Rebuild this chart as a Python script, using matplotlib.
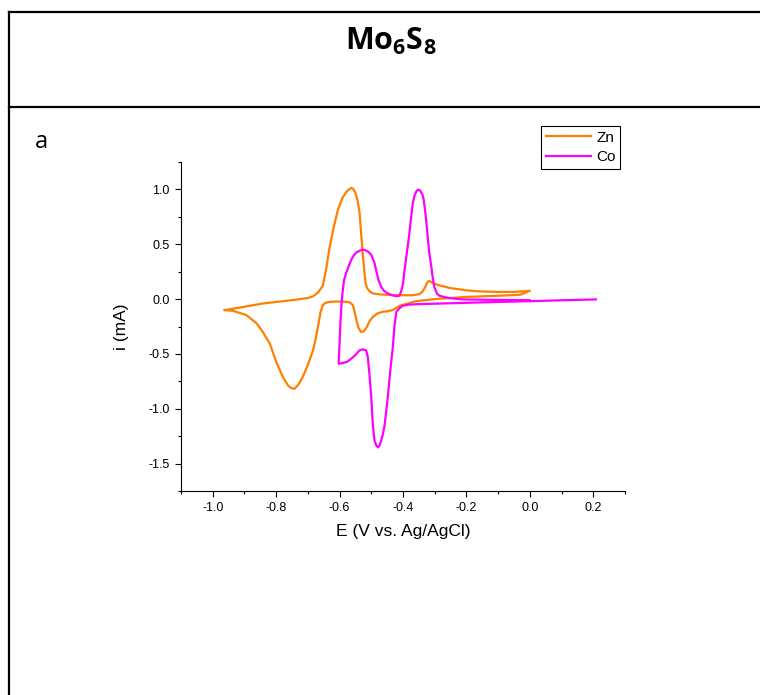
import matplotlib
matplotlib.use("Agg")
import matplotlib.pyplot as plt
from matplotlib.lines import Line2D

plt.rcParams['font.family'] = ['Liberation Sans', 'DejaVu Sans']
plt.rcParams['mathtext.fontset'] = 'custom'
plt.rcParams['mathtext.rm'] = 'Open Sans'
plt.rcParams['mathtext.bf'] = 'Open Sans:bold'

# Zn cycle: anodic sweep from -0.96 V to 0 V, then back
zn_E = [-0.962, -0.90, -0.842, -0.78, -0.736, -0.70, -0.684, -0.668, -0.653, -0.642,
        -0.631, -0.618, -0.605, -0.59, -0.575, -0.568, -0.563, -0.557, -0.552, -0.548,
        -0.545, -0.541, -0.537, -0.532, -0.527, -0.522, -0.518, -0.513, -0.505, -0.495,
        -0.47, -0.42, -0.37, -0.348, -0.338, -0.330, -0.324, -0.319, -0.315, -0.310,
        -0.300, -0.285, -0.25, -0.2, -0.159, -0.10, -0.05, 0.0,
        -0.03, -0.1, -0.2, -0.3, -0.36, -0.41, -0.432, -0.45, -0.464, -0.48,
        -0.495, -0.505, -0.515, -0.524, -0.532, -0.540, -0.547, -0.553, -0.558, -0.568,
        -0.579, -0.61, -0.631, -0.645, -0.653, -0.660, -0.668, -0.676, -0.684, -0.70,
        -0.716, -0.73, -0.742, -0.752, -0.762, -0.779, -0.80, -0.82, -0.842, -0.862,
        -0.894, -0.936, -0.962]
zn_i = [-0.10, -0.07, -0.04, -0.02, -0.005, 0.01, 0.025, 0.06, 0.12, 0.28,
        0.48, 0.66, 0.815, 0.93, 0.99, 1.005, 1.014, 1.005, 0.98, 0.95,
        0.92, 0.86, 0.787, 0.60, 0.42, 0.25, 0.146, 0.10, 0.07, 0.052,
        0.042, 0.035, 0.035, 0.045, 0.07, 0.11, 0.15, 0.165, 0.163, 0.152,
        0.138, 0.125, 0.10, 0.08, 0.07, 0.065, 0.065, 0.075,
        0.04, 0.03, 0.02, 0.0, -0.02, -0.06, -0.10, -0.112, -0.116, -0.13,
        -0.162, -0.20, -0.26, -0.295, -0.30, -0.265, -0.19, -0.11, -0.055, -0.03,
        -0.025, -0.022, -0.025, -0.035, -0.055, -0.12, -0.25, -0.37, -0.47, -0.60,
        -0.71, -0.78, -0.818, -0.812, -0.79, -0.71, -0.57, -0.406, -0.30, -0.22,
        -0.146, -0.107, -0.10]

# Co cycle: cathodic sweep from 0.21 V to -0.60 V, then back to 0 V
co_E = [0.208, 0.1, 0.0, -0.1, -0.2, -0.3, -0.35, -0.38, -0.40, -0.41,
        -0.421, -0.427, -0.432, -0.44, -0.448, -0.458, -0.464, -0.469, -0.474, -0.479,
        -0.484, -0.490, -0.495, -0.500, -0.506, -0.511, -0.516, -0.521, -0.529, -0.537,
        -0.55, -0.563, -0.575, -0.590, -0.603, -0.600, -0.597, -0.594, -0.591, -0.586,
        -0.579, -0.571, -0.563, -0.555, -0.547, -0.535, -0.528, -0.521, -0.514, -0.507,
        -0.50, -0.49, -0.485, -0.478, -0.469, -0.46, -0.448, -0.435, -0.421, -0.412,
        -0.406, -0.40, -0.395, -0.388, -0.381, -0.375, -0.369, -0.364, -0.359, -0.355,
        -0.351, -0.347, -0.343, -0.339, -0.335, -0.330, -0.325, -0.318, -0.311, -0.306,
        -0.301, -0.293, -0.285, -0.26, -0.243, -0.212, -0.15, -0.08, 0.0]
co_i = [-0.003, -0.011, -0.019, -0.026, -0.034, -0.042, -0.046, -0.05, -0.06, -0.08,
        -0.116, -0.25, -0.437, -0.65, -0.895, -1.15, -1.24, -1.29, -1.335, -1.353,
        -1.335, -1.29, -1.15, -0.895, -0.68, -0.528, -0.47, -0.461, -0.46, -0.467,
        -0.51, -0.543, -0.57, -0.583, -0.589, -0.40, -0.20, -0.05, 0.05, 0.17,
        0.24, 0.30, 0.36, 0.40, 0.425, 0.443, 0.45, 0.448, 0.44, 0.425,
        0.403, 0.33, 0.266, 0.18, 0.113, 0.075, 0.052, 0.035, 0.027, 0.03,
        0.067, 0.14, 0.266, 0.42, 0.57, 0.73, 0.876, 0.94, 0.975, 0.992,
        0.998, 0.992, 0.975, 0.955, 0.91, 0.80, 0.66, 0.44, 0.30, 0.19,
        0.11, 0.05, 0.03, 0.012, 0.006, -0.003, -0.006, -0.008, -0.01]

x_ticks = [-1.0, -0.8, -0.6, -0.4, -0.2, 0.0, 0.2]
y_ticks = [1.0, 0.5, 0.0, -0.5, -1.0, -1.5]

fig = plt.figure(figsize=(7.6, 6.95), dpi=100)

# table-like frame around the panel
fig.add_artist(Line2D([9/760, 1], [1-12/695, 1-12/695], color='black', lw=1.6, transform=fig.transFigure))
fig.add_artist(Line2D([9/760, 1], [1-107/695, 1-107/695], color='black', lw=1.6, transform=fig.transFigure))
fig.add_artist(Line2D([9/760, 9/760], [0, 1-12/695], color='black', lw=1.6, transform=fig.transFigure))

fig.text(0.514, 0.940, r'$\mathbf{Mo_6S_8}$', fontsize=22, ha='center', va='center')
fig.text(0.054, 0.795, 'a', fontsize=17, family=['Open Sans', 'DejaVu Sans'], ha='center', va='center')

ax = fig.add_axes([181/760, 1-491/695, (625-181)/760, (491-162)/695])
ax.plot(zn_E, zn_i, color='#FF7F00', lw=1.6, label='Zn')
ax.plot(co_E, co_i, color='#FF00FF', lw=1.6, label='Co')

ax.set_xlim(-1.1, 0.3)
ax.set_ylim(-1.75, 1.25)
ax.set_xticks(x_ticks)
ax.set_yticks(y_ticks)
ax.set_xticklabels(['%.1f' % v for v in x_ticks])
ax.set_yticklabels(['%.1f' % v for v in y_ticks])
ax.set_xticks([-1.1, -0.9, -0.7, -0.5, -0.3, -0.1, 0.1, 0.3], minor=True)
ax.set_yticks([1.25, 0.75, 0.25, -0.25, -0.75, -1.25, -1.75], minor=True)
ax.tick_params(which='major', direction='out', length=4.5, width=0.8, labelsize=9)
ax.tick_params(which='minor', direction='out', length=2.5, width=0.8)
for s in ['top', 'right']:
    ax.spines[s].set_visible(False)
for s in ['left', 'bottom']:
    ax.spines[s].set_linewidth(0.8)
ax.set_xlabel('E (V vs. Ag/AgCl)', fontsize=12.5, labelpad=7)
ax.set_ylabel('i (mA)', fontsize=12.5, labelpad=14)

leg = ax.legend(loc='upper right', bbox_to_anchor=(620/760, 1-126/695), bbox_transform=fig.transFigure,
                fontsize=11, handlelength=3.0, handletextpad=0.3, borderpad=0.3,
                labelspacing=0.35, borderaxespad=0, fancybox=False, framealpha=1)
leg.get_frame().set_edgecolor('black')
leg.get_frame().set_linewidth(0.8)

fig.savefig('out.png', dpi=100)
